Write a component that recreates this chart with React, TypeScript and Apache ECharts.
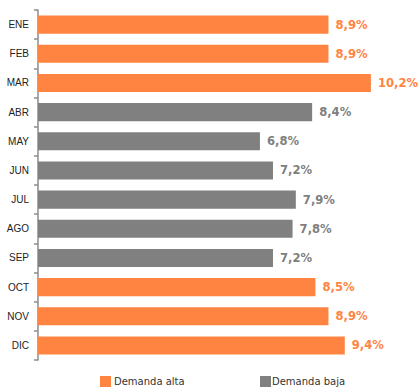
import React, { useEffect, useRef } from "react";
import * as echarts from "echarts";

const categories = ["ENE", "FEB", "MAR", "ABR", "MAY", "JUN", "JUL", "AGO", "SEP", "OCT", "NOV", "DIC"];
const values = [8.9, 8.9, 10.2, 8.4, 6.8, 7.2, 7.9, 7.8, 7.2, 8.5, 8.9, 9.4];
const highDemand = [true, true, true, false, false, false, false, false, false, true, true, true];
const seriesNames = ["Demanda alta", "Demanda baja"];

const ORANGE = "#FF8442";
const GRAY = "#808080";

export default function App() {
  const ref = useRef<HTMLDivElement>(null);
  useEffect(() => {
    if (!ref.current) return;
    const chart = echarts.init(ref.current, null, { renderer: "svg" });
    const altaData = values.map((v, i) => (highDemand[i] ? v : null));
    const bajaData = values.map((v, i) => (!highDemand[i] ? v : null));
    const fmt = (p: any) => String(p.value).replace(".", ",") + "%";
    const labelBase = {
      show: true,
      position: "right",
      distance: 7,
      formatter: fmt,
      fontFamily: "DejaVu Sans",
      fontWeight: "bold",
      fontSize: 11.6,
    };
    chart.setOption({
      animation: false,
      grid: { left: 38, right: 22, top: 10, bottom: 28, containLabel: false },
      xAxis: { type: "value", min: 0, max: 11, show: false },
      yAxis: {
        type: "category",
        data: categories,
        inverse: true,
        axisLine: { show: true, lineStyle: { color: "#8c8c8c", width: 1.5 } },
        axisTick: { show: true, length: 4, lineStyle: { color: "#8c8c8c", width: 1.5 } },
        axisLabel: { fontFamily: "Liberation Sans", fontSize: 10, color: "#222", margin: 9 },
      },
      legend: [
        {
          data: [seriesNames[0]],
          left: 100,
          top: 376,
          itemWidth: 11,
          itemHeight: 11,
          icon: "rect",
          itemGap: 0,
          textStyle: { fontFamily: "DejaVu Sans", fontSize: 10, color: "#333", padding: [0, 0, 0, -2] },
          padding: 0,
        },
        {
          data: [seriesNames[1]],
          left: 260,
          top: 376,
          itemWidth: 11,
          itemHeight: 11,
          icon: "rect",
          itemGap: 0,
          textStyle: { fontFamily: "DejaVu Sans", fontSize: 10, color: "#333", padding: [0, 0, 0, -4] },
          padding: 0,
        },
      ],
      series: [
        {
          name: seriesNames[0],
          type: "bar",
          stack: "total",
          data: altaData,
          barWidth: "62%",
          itemStyle: { color: ORANGE },
          label: { ...labelBase, color: ORANGE },
        },
        {
          name: seriesNames[1],
          type: "bar",
          stack: "total",
          data: bajaData,
          barWidth: "62%",
          itemStyle: { color: GRAY },
          label: { ...labelBase, color: "#7f7f7f" },
        },
      ],
    });
    return () => chart.dispose();
  }, []);
  return (
    <div
      ref={ref}
      style={{ position: "fixed", left: 0, top: 0, width: 419, height: 388, background: "#fff" }}
    />
  );
}
